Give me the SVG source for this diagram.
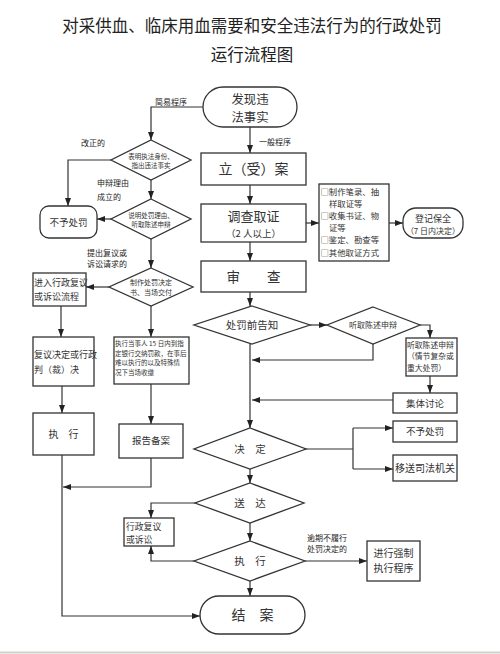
<svg xmlns="http://www.w3.org/2000/svg" width="500" height="654" viewBox="0 0 500 654">
<style>
text{font-family:"Noto Sans CJK SC","Noto Sans CJK TC",sans-serif;fill:#333}
.t{fill:#222;font-size:16.5px}
.bx{fill:#fff;stroke:#333;stroke-width:1.3}
.ln{fill:none;stroke:#333;stroke-width:1.2}
.ar{fill:none;stroke:#333;stroke-width:1.2;marker-end:url(#ah)}
.c{text-anchor:middle}
.lb{font-size:8px;fill:#222}
</style>
<defs>
<marker id="ah" markerWidth="8" markerHeight="6" refX="8" refY="3" orient="auto" markerUnits="userSpaceOnUse"><path d="M0,0 L8,3 L0,6 z" fill="#222"/></marker>
</defs>
<rect x="0" y="0" width="500" height="654" fill="#fff"/>
<line x1="0" y1="652.5" x2="500" y2="652.5" stroke="#d0d0cc" stroke-width="2"/>
<g id="title">
<text class="t c" x="252" y="32">对采供血、临床用血需要和安全违法行为的行政处罚</text>
<text class="t c" x="252" y="61">运行流程图</text>
</g>
<g id="connectors">
<path class="ar" d="M250,127 V153"/>
<path class="ar" d="M250,185 V204"/>
<path class="ar" d="M250,242 V261"/>
<path class="ar" d="M250,292 V306"/>
<path class="ar" d="M306,223 H319"/>
<path class="ar" d="M389,223 H403"/>
<path class="ar" d="M310,325 H327"/>
<path class="ar" d="M373,344 V360 H252"/>
<path class="ar" d="M420,325 H430 V338"/>
<path class="ar" d="M430,376 V393"/>
<path class="ar" d="M393,400 H252"/>
<path class="ar" d="M250,344 V428"/>
<path class="ln" d="M306,449 H353 M353,428 V469"/>
<path class="ar" d="M353,428 H393"/>
<path class="ar" d="M353,469 H393"/>
<path class="ar" d="M250,469 V483"/>
<path class="ar" d="M195,503 H151 V518"/>
<path class="ar" d="M250,523 V541"/>
<path class="ar" d="M194,561 H151 V546"/>
<path class="ar" d="M305,561 H367"/>
<path class="ar" d="M250,581 V596"/>
<path class="ar" d="M203,107 H151 V140"/>
<path class="ar" d="M111,160 H68 V206"/>
<path class="ar" d="M151,180 V199"/>
<path class="ar" d="M111,219 H97"/>
<path class="ar" d="M151,239 V268"/>
<path class="ar" d="M109,287 H86"/>
<path class="ar" d="M151,306 V337"/>
<path class="ar" d="M61,306 V337"/>
<path class="ar" d="M62,386 V413"/>
<path class="ar" d="M151,384 V424"/>
<path class="ar" d="M151,458 V487 H63"/>
<path class="ar" d="M62,455 V616 H200"/>
</g>
<g id="labels">
<text class="lb" x="155" y="105">简易程序</text>
<text class="lb" x="259" y="145">一般程序</text>
<text class="lb" x="81" y="146">改正的</text>
<text class="lb" x="97" y="186">申辩理由</text>
<text class="lb" x="97" y="200">成立的</text>
<text class="lb" x="87" y="255.5">提出复议或</text>
<text class="lb" x="87" y="267.2">诉讼请求的</text>
<text class="lb" x="307" y="540.5">逾期不履行</text>
<text class="lb" x="307" y="552.2">处罚决定的</text>
</g>
<g id="n-start"><rect class="bx" x="203" y="87" width="94" height="40" rx="20"/>
<text class="c" x="250" y="103.5" font-size="12.4">发现违</text><text class="c" x="250" y="121.5" font-size="12.4">法事实</text></g>
<g id="n-lian"><rect class="bx" x="201" y="153" width="105" height="32"/>
<text class="c" x="253.5" y="174" font-size="14">立（受）案</text></g>
<g id="n-diaocha"><rect class="bx" x="201" y="204" width="105" height="38"/>
<text class="c" x="253.5" y="221" font-size="13">调查取证</text><text class="c" x="253.5" y="236.5" font-size="9.5">（2 人以上）</text></g>
<g id="n-list"><rect class="bx" x="319" y="184" width="70" height="77"/>
<g font-size="8.4"><text x="320.5" y="194.5">□制作笔录、抽</text><text x="329" y="206.7">样取证等</text><text x="320.5" y="218.9">□收集书证、物</text><text x="329" y="231.1">证等</text><text x="320.5" y="243.3">□鉴定、勘查等</text><text x="320.5" y="255.5">□其他取证方式</text></g></g>
<g id="n-dengji"><rect class="bx" x="403" y="208" width="60" height="30" rx="13"/>
<text class="c" x="433" y="221.5" font-size="9">登记保全</text><text class="c" x="433" y="233.5" font-size="8">（7 日内决定）</text></g>
<g id="n-shencha"><rect class="bx" x="201" y="261" width="105" height="31"/>
<text class="c" x="253.5" y="282" font-size="13.5">审　　查</text></g>
<g id="n-gaozhi"><polygon class="bx" points="252,306 310,325 252,344 194,325"/>
<text class="c" x="252" y="329" font-size="10.5">处罚前告知</text></g>
<g id="n-tingqu"><polygon class="bx" points="373,307 420,325 373,344 327,325"/>
<text class="c" x="373" y="328" font-size="8">听取陈述申辩</text></g>
<g id="n-tingqu2"><rect class="bx" x="406" y="338" width="51" height="38"/>
<g font-size="7.8"><text x="407" y="347.5">听取陈述申辩</text><text x="407" y="359">（情节复杂或</text><text x="407" y="370.5">重大处罚）</text></g></g>
<g id="n-jiti"><rect class="bx" x="393" y="393" width="64" height="20"/>
<text class="c" x="425" y="406.5" font-size="9.5">集体讨论</text></g>
<g id="n-jueding"><polygon class="bx" points="250,428 306,449 250,469 194,449"/>
<text class="c" x="250" y="453" font-size="10.5">决　定</text></g>
<g id="n-buyu2"><rect class="bx" x="393" y="421" width="64" height="21"/>
<text class="c" x="425" y="435" font-size="9.5">不予处罚</text></g>
<g id="n-yisong"><rect class="bx" x="393" y="455" width="64" height="26"/>
<text class="c" x="425" y="472" font-size="10">移送司法机关</text></g>
<g id="n-songda"><polygon class="bx" points="250,483 304,503 250,523 195,503"/>
<text class="c" x="250" y="507" font-size="10.5">送　达</text></g>
<g id="n-fuyi2"><rect class="bx" x="124" y="518" width="50" height="28"/>
<text x="126" y="529.5" font-size="8.8">行政复议</text><text x="126" y="542.5" font-size="8.8">或诉讼</text></g>
<g id="n-zhixing2"><polygon class="bx" points="250,541 305,561 250,581 194,561"/>
<text class="c" x="250" y="565" font-size="10.5">执　行</text></g>
<g id="n-qiangzhi"><rect class="bx" x="367" y="541" width="53" height="40"/>
<text class="c" x="393.5" y="557" font-size="10">进行强制</text><text class="c" x="393.5" y="572" font-size="10">执行程序</text></g>
<g id="n-jiean"><rect class="bx" x="200" y="596" width="105" height="38" rx="19"/>
<text class="c" x="252.5" y="620" font-size="14">结　案</text></g>
<g id="n-d1"><polygon class="bx" points="151,140 191,160 151,180 111,160"/>
<text class="c" x="151" y="158.5" font-size="6.5">表明执法身份、</text><text class="c" x="151" y="168" font-size="6.5">指出违法事实</text></g>
<g id="n-d2"><polygon class="bx" points="151,199 191,219 151,239 111,219"/>
<text class="c" x="151" y="217.5" font-size="6.5">说明处罚理由、</text><text class="c" x="151" y="227" font-size="6.5">听取陈述申辩</text></g>
<g id="n-buyu1"><rect class="bx" x="40" y="206" width="57" height="32" rx="9"/>
<text class="c" x="68.5" y="226" font-size="9.5">不予处罚</text></g>
<g id="n-d3"><polygon class="bx" points="151,268 193,287 151,306 109,287"/>
<text class="c" x="151" y="284.5" font-size="7">制作处罚决定</text><text class="c" x="151" y="294.7" font-size="7">书、当场交付</text></g>
<g id="n-jinru"><rect class="bx" x="33" y="273" width="53" height="33"/>
<text x="34" y="286" font-size="9">进入行政复议</text><text x="34" y="300" font-size="9">或诉讼流程</text></g>
<g id="n-fuyi"><rect class="bx" x="33" y="337" width="61" height="49"/>
<text x="34" y="358" font-size="9">复议决定或行政</text><text x="34" y="373" font-size="9">判（裁）决</text></g>
<g id="n-zhixing1"><rect class="bx" x="33" y="413" width="61" height="42"/>
<text class="c" x="63.5" y="438" font-size="10">执　行</text></g>
<g id="n-dangshi"><rect class="bx" x="114" y="337" width="75" height="47"/>
<g font-size="6.5"><text x="115" y="346">执行当事人 15 日内到指</text><text x="115" y="355.5">定银行交纳罚款，在事后</text><text x="115" y="365">难以执行的以及特殊情</text><text x="115" y="374.5">况下当场收缴</text></g></g>
<g id="n-baogao"><rect class="bx" x="119" y="424" width="64" height="34"/>
<text class="c" x="151" y="444" font-size="9.5">报告备案</text></g>
</svg>
